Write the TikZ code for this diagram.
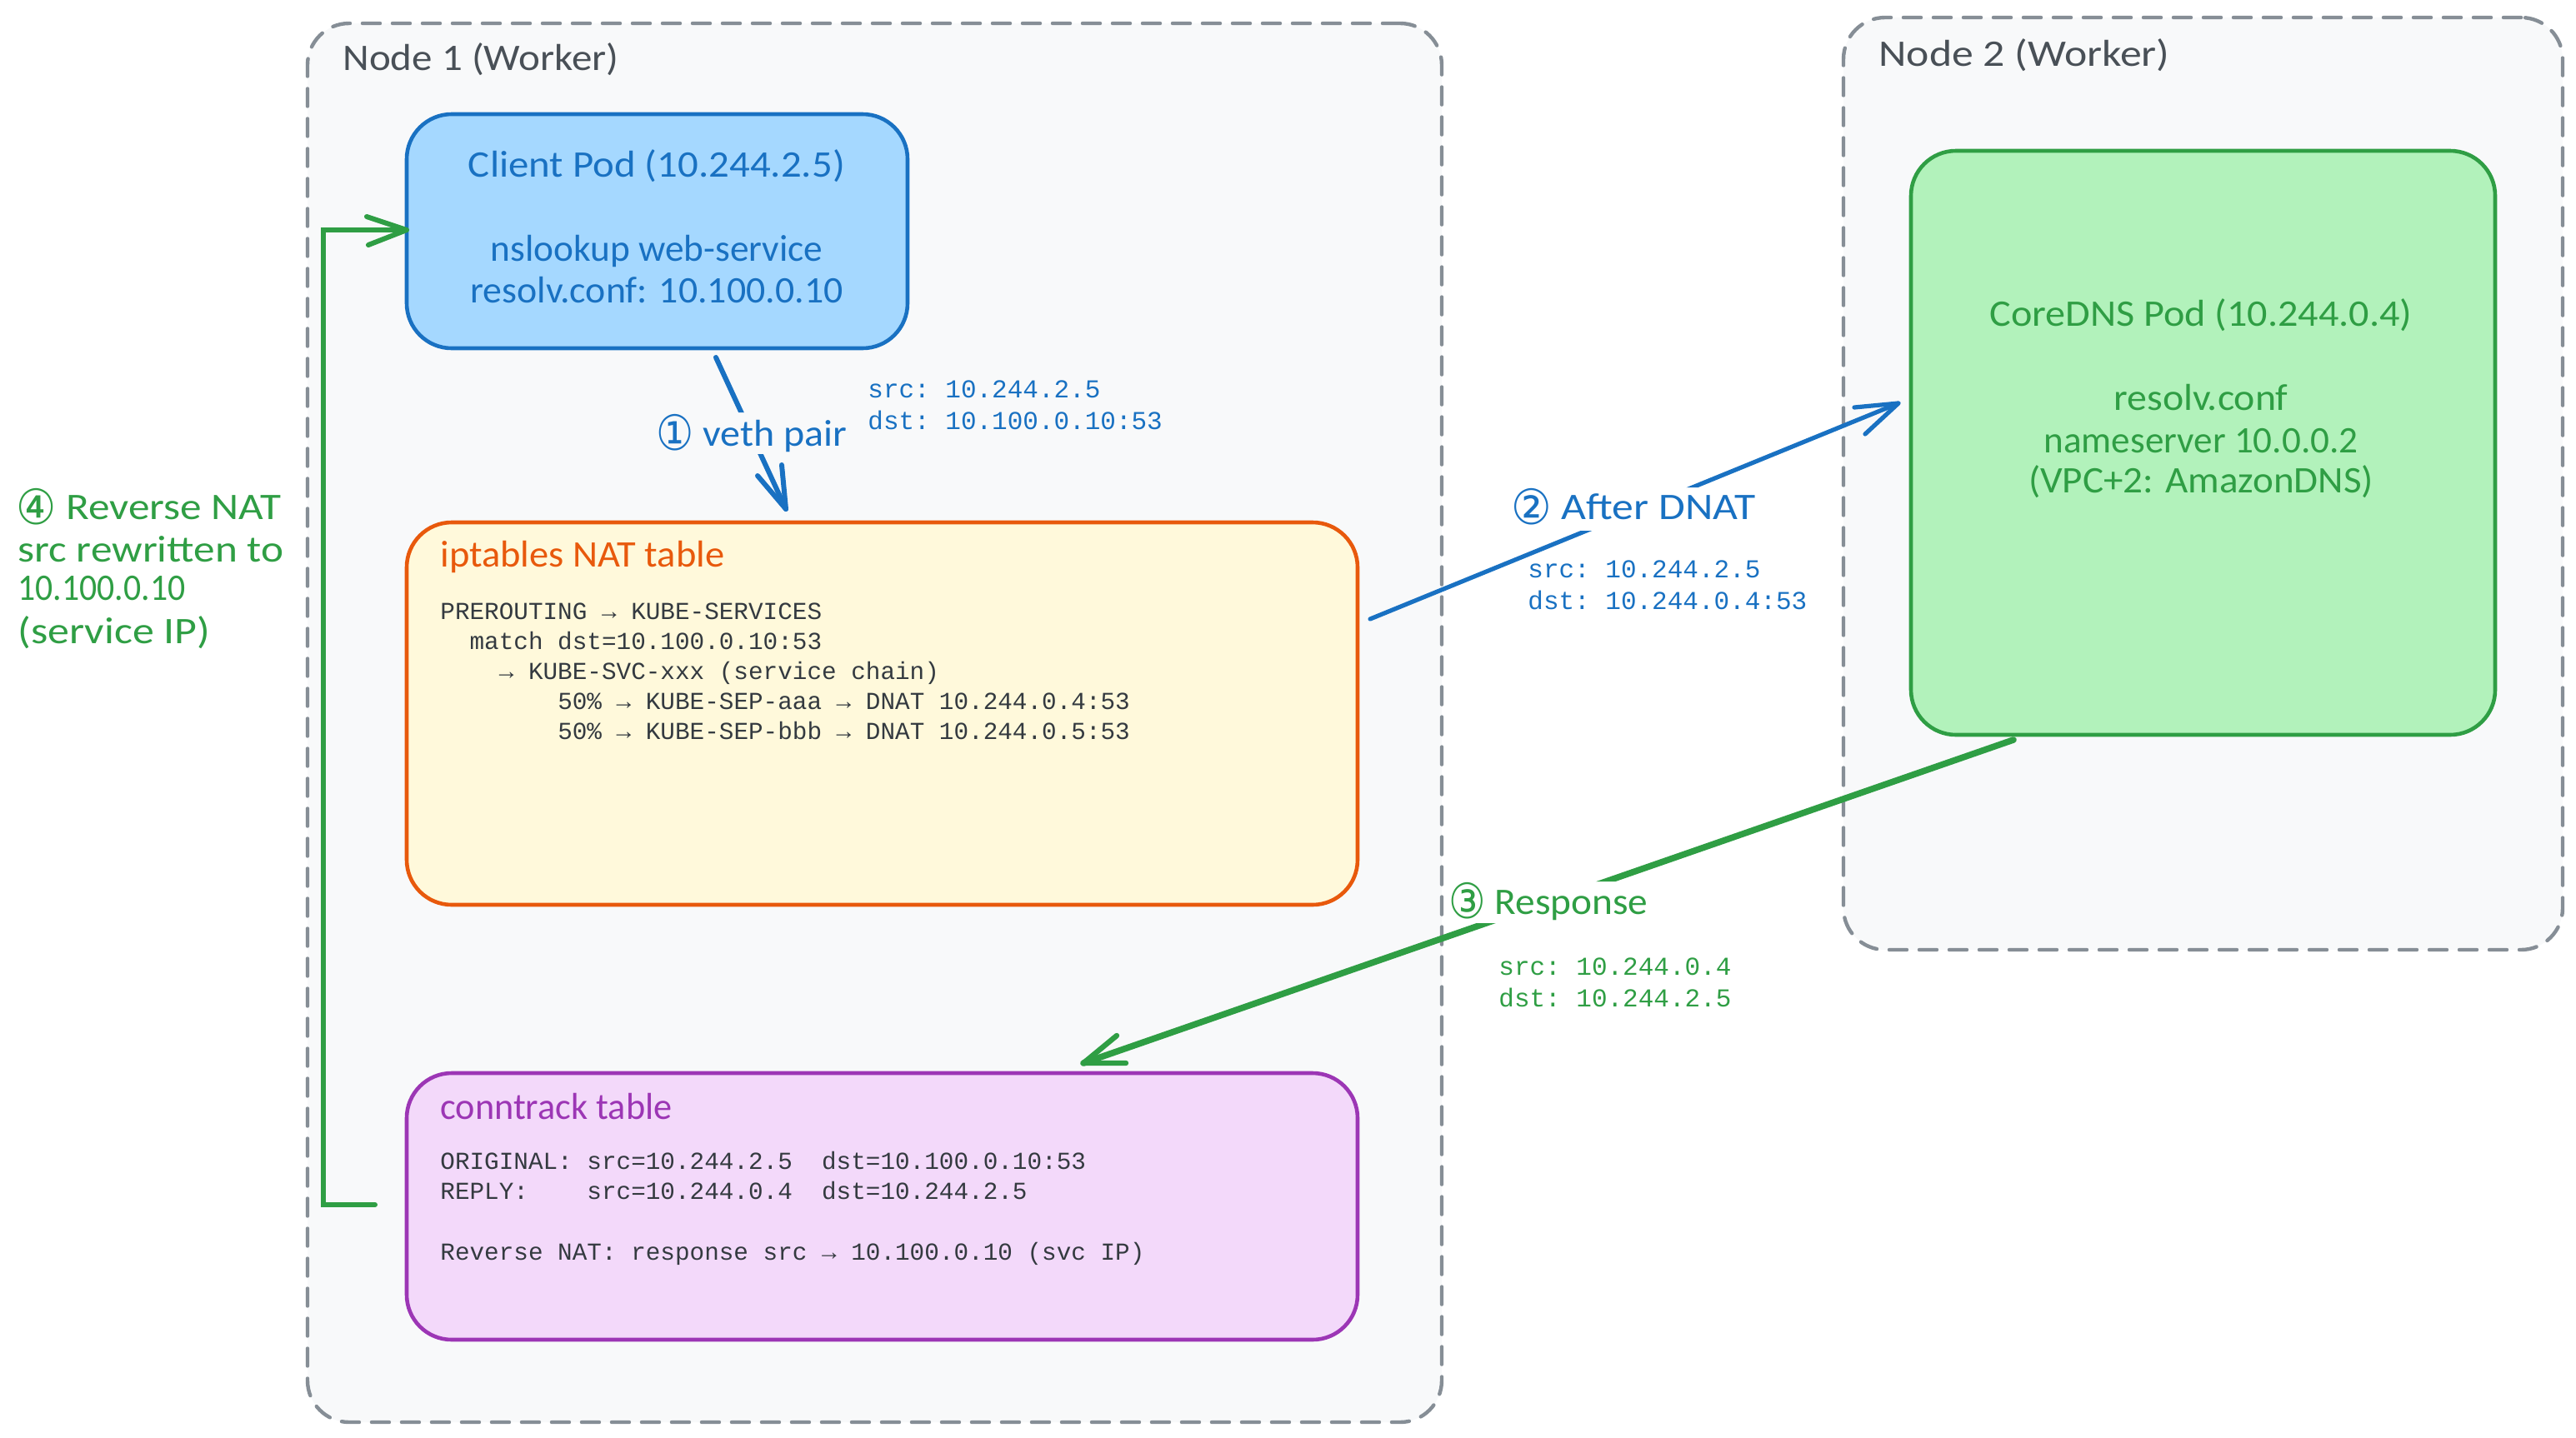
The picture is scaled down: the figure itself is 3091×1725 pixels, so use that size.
\documentclass[tikz,border=0pt]{standalone}
\usepackage{fontspec}
\usepackage{graphicx}
\setmainfont{Carlito}
\setmonofont{Liberation Mono}
\newfontfamily\circf{DejaVu Sans}
\usetikzlibrary{positioning}
\definecolor{cblue}{HTML}{1971C2}
\definecolor{fblue}{HTML}{A5D8FF}
\definecolor{corange}{HTML}{E8590C}
\definecolor{forange}{HTML}{FFF9DB}
\definecolor{cpurple}{HTML}{9C36B5}
\definecolor{fpurple}{HTML}{F3D9FA}
\definecolor{cgreen}{HTML}{2F9E44}
\definecolor{fgreen}{HTML}{B2F2BB}
\definecolor{regionfill}{HTML}{F8F9FA}
\definecolor{regionline}{HTML}{868E96}
\definecolor{titlecol}{HTML}{495057}
\definecolor{monocol}{HTML}{343A40}
\newcommand\hw[2]{\resizebox{#1}{\height}{#2}}
\newcommand\cnum[1]{\raisebox{-0.12em}{\scalebox{1.05}[1.3]{\circf #1}}}
\tikzset{
  x=0.5pt,y=-0.5pt,
  region/.style={draw=regionline,fill=regionfill,line width=2.2pt,dash pattern=on 10.5pt off 7.5pt,rounded corners=25pt,anchor=north west,inner sep=0pt,outer sep=0pt,line cap=round},
  card/.style={line width=2.3pt,rounded corners=27pt,anchor=north west,inner sep=0pt,outer sep=0pt},
  hand/.style={inner sep=0pt,font=\fontsize{22.5pt}{26pt}\selectfont},
  handleft/.style={hand,anchor=west},
  mono/.style={inner sep=0pt,anchor=north west,align=left,font=\ttfamily\fontsize{14.67pt}{18.1pt}\selectfont,text=monocol},
  flowmono/.style={inner sep=0pt,anchor=north west,align=left,font=\ttfamily\fontsize{15.5pt}{19.2pt}\selectfont},
  link/.style={line cap=round,line join=round,line width=2.6pt},
}
\begin{document}
\begin{tikzpicture}
\useasboundingbox (0,0) rectangle (3091,1725);
% regions
\node[region,minimum width=680.5pt,minimum height=839.5pt] (nodeone) at (369,28) {};
\node[region,minimum width=431.5pt,minimum height=559.5pt] (nodetwo) at (2212,21) {};
\node[hand,text=titlecol,anchor=west] (nodeonetitle) at (411,71) {\hw{165.5pt}{Node 1 (Worker)}};
\node[hand,text=titlecol,anchor=west] (nodetwotitle) at (2254,66) {\hw{174.5pt}{Node 2 (Worker)}};
% cards
\node[card,draw=cblue,fill=fblue,minimum width=300.5pt,minimum height=140.5pt] (client) at (488,137) {};
\node[card,draw=corange,fill=forange,minimum width=570.5pt,minimum height=229.5pt] (iptables) at (488,627) {};
\node[card,draw=cpurple,fill=fpurple,minimum width=570.5pt,minimum height=160pt] (conntrack) at (488,1288) {};
\node[card,draw=cgreen,fill=fgreen,minimum width=350.5pt,minimum height=350.5pt] (coredns) at (2293,181) {};
% client text
\node[hand,text=cblue] (clientl1) at (788,199) {\hw{226pt}{Client Pod (10.244.2.5)}};
\node[hand,text=cblue] (clientl2) at (788,301) {\hw{199.5pt}{nslookup web-service}};
\node[hand,text=cblue] (clientl3) at (788,348) {\hw{223.5pt}{resolv.conf: 10.100.0.10}};
% coredns text
\node[hand,text=cgreen] (corel1) at (2641,378) {\hw{253.5pt}{CoreDNS Pod (10.244.0.4)}};
\node[hand,text=cgreen] (corel2) at (2641,477) {\hw{104.5pt}{resolv.conf}};
\node[hand,text=cgreen] (corel3) at (2641,529) {\hw{188.5pt}{nameserver 10.0.0.2}};
\node[hand,text=cgreen] (corel4) at (2641,578) {\hw{207pt}{(VPC+2: AmazonDNS)}};
% iptables text
\node[handleft,text=corange] (iptitle) at (528,668) {\hw{170.5pt}{iptables NAT table}};
\node[mono] (iplines) at (528,723) {PREROUTING → KUBE-SERVICES\\
~~match dst=10.100.0.10:53\\
~~~~→ KUBE-SVC-xxx (service chain)\\
~~~~~~~~50\% → KUBE-SEP-aaa → DNAT 10.244.0.4:53\\
~~~~~~~~50\% → KUBE-SEP-bbb → DNAT 10.244.0.5:53};
% conntrack text
\node[handleft,text=cpurple] (cttitle) at (528,1328) {\hw{139pt}{conntrack table}};
\node[mono] (ctlines) at (528,1382) {ORIGINAL: src=10.244.2.5~~dst=10.100.0.10:53\\
REPLY:~~~~src=10.244.0.4~~dst=10.244.2.5\\
~\\
Reverse NAT: response src → 10.100.0.10 (svc IP)};
% connector ends
\coordinate (aones) at (859,429);
\coordinate (aonee) at (943,611);
\coordinate (atwos) at (1644,743);
\coordinate (atwoe) at (2278,484);
\coordinate (athrees) at (2416,888);
\coordinate (athreee) at (1300,1276);
\coordinate (afours) at (450,1446);
\coordinate (afourc) at (388,1446);
\coordinate (afourd) at (388,276);
\coordinate (afoure) at (488,276);
% arrow 1
\begin{scope}[even odd rule]
\clip (0,0) rectangle (3091,1725) (789,495) rectangle (1016,545);
\draw[link,draw=cblue,line width=3pt] (aones) -- (aonee);
\end{scope}
\draw[link,draw=cblue,line width=3pt] (909,571) -- (aonee) -- (938,558);
% arrow 2
\begin{scope}[even odd rule]
\clip (0,0) rectangle (3091,1725) (1815,585) rectangle (2106,637);
\draw[link,draw=cblue] (atwos) -- (atwoe);
\end{scope}
\draw[link,draw=cblue] (2225,489) -- (atwoe) -- (2238,521);
% arrow 3
\begin{scope}[even odd rule]
\clip (0,0) rectangle (3091,1725) (1740,1058) rectangle (1977,1108);
\draw[link,draw=cgreen,line width=3.8pt] (athrees) -- (athreee);
\end{scope}
\draw[link,draw=cgreen,line width=3.2pt] (1340,1243) -- (athreee) -- (1351,1276);
% arrow 4
\draw[link,draw=cgreen,line width=3pt,line join=miter] (afours) -- (afourc) -- (afourd) -- (afoure);
\draw[link,draw=cgreen,line width=3pt] (440,260) -- (afoure) -- (442,294);
% arrow labels
\node[handleft,text=cblue] (lblone) at (787,520) {\hw{114.5pt}{\cnum{①} veth pair}};
\node[handleft,text=cblue] (lbltwo) at (1813,608) {\hw{146.5pt}{\cnum{②} After DNAT}};
\node[handleft,text=cgreen] (lblthree) at (1738,1082) {\hw{119.5pt}{\cnum{③} Response}};
\node[flowmono,text=cblue] (flowone) at (1041,456) {src: 10.244.2.5\\dst: 10.100.0.10:53};
\node[flowmono,text=cblue] (flowtwo) at (1833,672) {src: 10.244.2.5\\dst: 10.244.0.4:53};
\node[flowmono,text=cgreen] (flowthree) at (1798,1149) {src: 10.244.0.4\\dst: 10.244.2.5};
% reverse NAT label
\node[handleft,text=cgreen] (revone) at (19,608) {\hw{159pt}{\cnum{④} Reverse NAT}};
\node[handleft,text=cgreen] (revtwo) at (21,659) {\hw{159.5pt}{src rewritten to}};
\node[handleft,text=cgreen] (revthree) at (21,706) {\hw{100.5pt}{10.100.0.10}};
\node[handleft,text=cgreen] (revfour) at (21,759) {\hw{115.5pt}{(service IP)}};
\end{tikzpicture}
\end{document}
